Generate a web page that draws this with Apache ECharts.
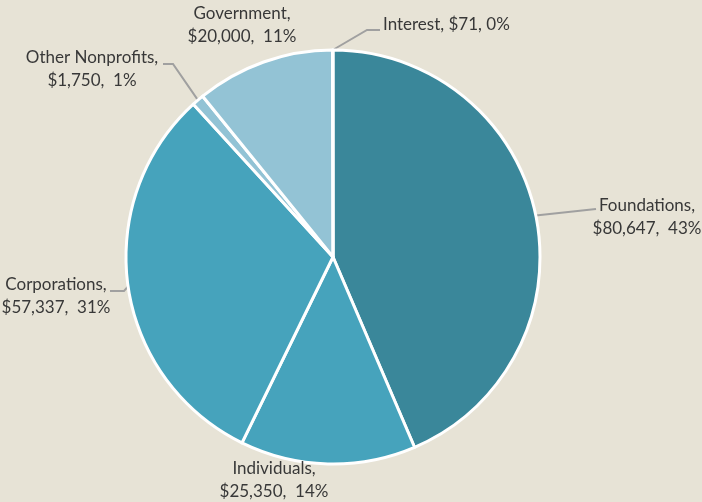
<!DOCTYPE html>
<html>
<head>
<meta charset="utf-8">
<script src="https://cdn.jsdelivr.net/npm/echarts@6/dist/echarts.min.js"></script>
<style>
html,body{margin:0;padding:0;background:#E7E3D6;}
#c{width:702px;height:502px;}
</style>
</head>
<body>
<div id="c"></div>
<script>
// ---- data ----
var categories = ['Foundations', 'Individuals', 'Corporations', 'Other Nonprofits', 'Government', 'Interest'];
var amounts = [80647, 25350, 57337, 1750, 20000, 71];
var percentLabels = [43, 14, 31, 1, 11, 0];

// ---- styling / layout (not data) ----
var colors = ['#3A879A', '#46A3BC', '#46A3BC', '#92C3D5', '#93C3D5', '#3A879A'];
var CX = 333, CY = 257, R = 207;
var labelPlace = [
  {x: 647, y: 217.5, align: 'center', via: [[596, 209]]},
  {x: 274, y: 480, align: 'center', via: null},
  {x: 56, y: 296.5, align: 'center', via: [[124, 291], [110, 291]]},
  {x: 92, y: 69.5, align: 'center', via: [[173, 64], [163, 64]]},
  {x: 242, y: 25.5, align: 'center', via: null},
  {x: 383, y: 25, align: 'left', via: [[367, 30], [380, 30]]}
];

function fmt(v) { return '$' + v.toLocaleString('en-US'); }

var total = amounts.reduce(function (a, b) { return a + b; }, 0);
var midAngles = [];
var acc = 0;
for (var i = 0; i < amounts.length; i++) {
  midAngles.push((acc + amounts[i] / 2) / total * 2 * Math.PI);
  acc += amounts[i];
}

var data = categories.map(function (c, i) {
  var txt = (i === 5)
    ? c + ', ' + fmt(amounts[i]) + ', ' + percentLabels[i] + '%'
    : c + ',\n' + fmt(amounts[i]) + ',  ' + percentLabels[i] + '%';
  return {
    name: c,
    value: amounts[i],
    itemStyle: {color: colors[i]},
    label: {formatter: txt},
    labelLine: {show: !!labelPlace[i].via}
  };
});

var chart = echarts.init(document.getElementById('c'), null, {renderer: 'canvas'});
chart.setOption({
  backgroundColor: '#E7E3D6',
  animation: false,
  series: [{
    type: 'pie',
    center: [CX, CY],
    radius: R,
    startAngle: 90,
    clockwise: true,
    data: data,
    itemStyle: {borderColor: '#ffffff', borderWidth: 3},
    label: {
      show: true,
      position: 'outside',
      overflow: 'none',
      edgeDistance: 0,
      color: '#383838',
      fontFamily: 'Lato',
      fontSize: 17,
      lineHeight: 23,
      align: 'center'
    },
    labelLine: {show: true, lineStyle: {color: '#A0A0A0', width: 2}},
    emphasis: {disabled: true},
    labelLayout: function (p) {
      var i = p.dataIndex;
      var lp = labelPlace[i];
      var a = midAngles[i];
      var edge = [CX + R * Math.sin(a), CY - R * Math.cos(a)];
      var res = {x: lp.x, y: lp.y, align: lp.align, verticalAlign: 'middle'};
      if (lp.via) {
        var pts = [edge].concat(lp.via);
        if (pts.length === 2) pts.push(lp.via[0]);
        res.labelLinePoints = pts;
      }
      return res;
    }
  }]
});
</script>
</body>
</html>
